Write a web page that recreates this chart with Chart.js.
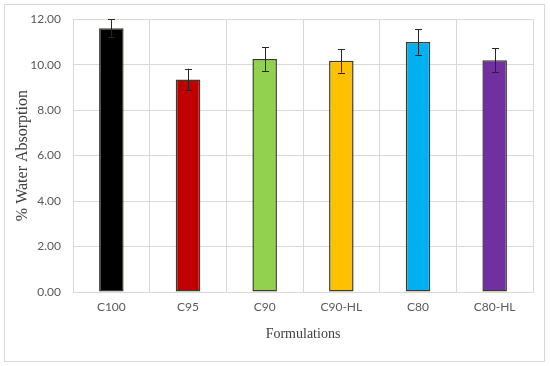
<!DOCTYPE html>
<html>
<head>
<meta charset="utf-8">
<script src="https://cdn.jsdelivr.net/npm/chart.js@4.4.0/dist/chart.umd.min.js"></script>
<style>
  html, body { margin: 0; padding: 0; background: #fff; }
  #wrap { width: 550px; height: 366px; }
</style>
</head>
<body>
<div id="wrap"><canvas id="c1" width="550" height="366"></canvas></div>
<script>
var formulations = ['C100', 'C95', 'C90', 'C90-HL', 'C80', 'C80-HL'];
var absorption = [11.6, 9.35, 10.25, 10.17, 11.0, 10.19];
var errors = [0.4, 0.47, 0.52, 0.52, 0.56, 0.53];
var barColors = ['#000000', '#c00000', '#92d050', '#ffc000', '#00b0f0', '#7030a0'];

// draws the outer frame and the error bars
var extras = {
    id: 'extras',
    beforeDraw: function (chart) {
        var ctx = chart.ctx;
        ctx.save();
        ctx.fillStyle = '#fff';
        ctx.fillRect(0, 0, chart.width, chart.height);
        ctx.strokeStyle = '#d9d9d9';
        ctx.lineWidth = 1;
        ctx.strokeRect(4.5, 4.5, 540, 357);
        ctx.restore();
    },
    afterDatasetsDraw: function (chart) {
        var ctx = chart.ctx;
        var y = chart.scales.y;
        var meta = chart.getDatasetMeta(0);
        ctx.save();
        ctx.strokeStyle = '#262626';
        ctx.lineWidth = 1;
        meta.data.forEach(function (bar, i) {
            var x = Math.round(bar.x) + 0.5;
            var top = y.getPixelForValue(Math.min(absorption[i] + errors[i], 12));
            var bottom = y.getPixelForValue(absorption[i] - errors[i]);
            ctx.beginPath();
            ctx.moveTo(x, top);
            ctx.lineTo(x, bottom);
            ctx.moveTo(x - 3.5, Math.round(top) + 0.5);
            ctx.lineTo(x + 3.5, Math.round(top) + 0.5);
            ctx.moveTo(x - 3.5, Math.round(bottom) + 0.5);
            ctx.lineTo(x + 3.5, Math.round(bottom) + 0.5);
            ctx.stroke();
        });
        ctx.restore();
    }
};

var ctx = document.getElementById('c1');
var myBarChart = new Chart(ctx, {
    type: 'bar',
    data: {
        labels: formulations,
        datasets: [{
            label: '% Water Absorption',
            data: absorption,
            backgroundColor: barColors,
            borderColor: '#3b3b30',
            borderWidth: 1.5,
            borderSkipped: false,
            barPercentage: 0.32,
            categoryPercentage: 1.0
        }]
    },
    options: {
        responsive: false,
        animation: false,
        layout: {
            padding: { left: 8, right: 17, top: 15, bottom: 23 }
        },
        plugins: {
            legend: { display: false },
            tooltip: { enabled: false }
        },
        scales: {
            x: {
                grid: { color: '#d9d9d9', lineWidth: 1, drawTicks: false, offset: true },
                border: { color: '#d9d9d9' },
                ticks: { color: '#595959', font: { family: 'Lato', size: 12 }, padding: 8 },
                title: {
                    display: true,
                    text: 'Formulations',
                    color: '#404040',
                    font: { family: 'Liberation Serif', size: 14 },
                    padding: 0
                },
                afterFit: function (scale) { scale.height = 51; }
            },
            y: {
                min: 0,
                max: 12,
                grid: { color: '#d9d9d9', lineWidth: 1, drawTicks: false },
                border: { color: '#d9d9d9' },
                ticks: {
                    stepSize: 2,
                    color: '#595959',
                    font: { family: 'Lato', size: 12 },
                    padding: 12,
                    callback: function (v) { return v.toFixed(2); }
                },
                title: {
                    display: true,
                    text: '% Water Absorption',
                    color: '#404040',
                    font: { family: 'Liberation Serif', size: 16 },
                    padding: { top: 5, bottom: 0 }
                },
                afterFit: function (scale) { scale.width = 65; }
            }
        }
    },
    plugins: [extras]
});
</script>
</body>
</html>
